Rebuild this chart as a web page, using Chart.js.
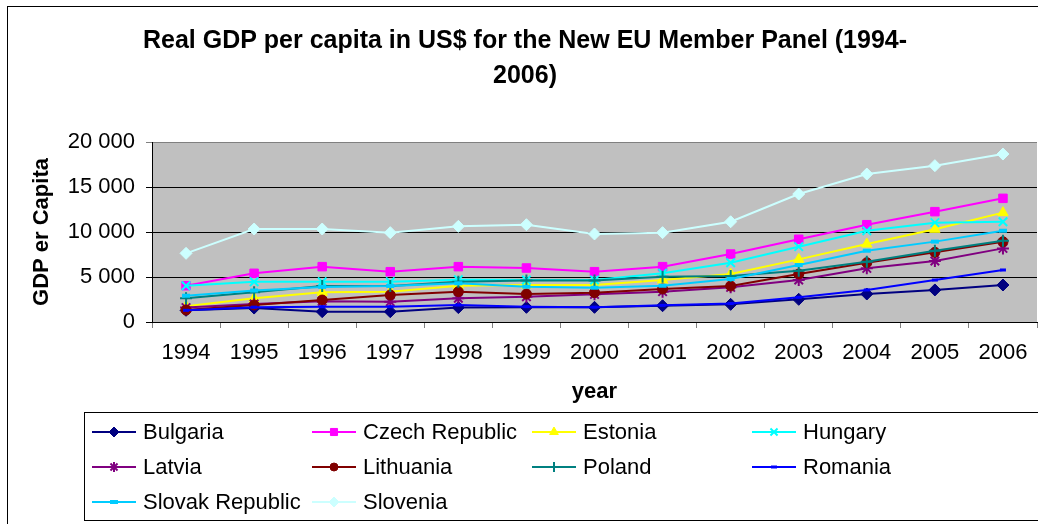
<!DOCTYPE html>
<html>
<head>
<meta charset="utf-8">
<title>Real GDP per capita - New EU Member Panel</title>
<script src="https://cdn.jsdelivr.net/npm/chart.js@4.4.1/dist/chart.umd.min.js"></script>
<style>
  html, body { margin: 0; padding: 0; background: #fff; overflow: hidden; }
  #wrap { width: 1038px; height: 524px; overflow: hidden; }
</style>
</head>
<body>
<div id="wrap"><canvas id="myChart" width="1045" height="524"></canvas></div>
<script>
// values
const years = ['1994', '1995', '1996', '1997', '1998', '1999', '2000', '2001', '2002', '2003', '2004', '2005', '2006'];
const countries = ['Bulgaria', 'Czech Republic', 'Estonia', 'Hungary', 'Latvia', 'Lithuania', 'Poland', 'Romania', 'Slovak Republic', 'Slovenia'];

const bulgaria  = [1300, 1550, 1150, 1150, 1600, 1630, 1630, 1810, 1960, 2520, 3110, 3560, 4110];
const czech     = [4030, 5410, 6150, 5590, 6150, 6000, 5590, 6150, 7550, 9190, 10810, 12260, 13740];
const estonia   = [1740, 2630, 3300, 3370, 4030, 4100, 4100, 4660, 5330, 6960, 8660, 10300, 12150];
const hungary   = [4030, 4480, 4480, 4480, 4700, 4660, 4660, 5410, 6590, 8370, 10140, 11040, 11140];
const latvia    = [1600, 2000, 2300, 2260, 2630, 2810, 3070, 3370, 3850, 4660, 5960, 6780, 8180];
const lithuania = [1330, 1890, 2440, 3000, 3370, 3110, 3260, 3670, 4000, 5330, 6590, 7740, 8920];
const poland    = [2630, 3300, 4000, 4000, 4480, 4600, 4600, 5030, 5110, 5700, 6700, 7920, 9030];
const romania   = [1300, 1650, 1700, 1700, 1900, 1700, 1650, 1850, 2050, 2750, 3560, 4660, 5780];
const slovakia  = [2920, 3500, 3900, 4000, 4300, 3920, 3810, 4030, 4780, 6330, 7920, 8930, 10140];
const slovenia  = [7630, 10330, 10330, 9930, 10630, 10810, 9780, 9930, 11140, 14220, 16440, 17370, 18660];

const yTicks = [0, 5000, 10000, 15000, 20000];

const allSeries = [bulgaria, czech, estonia, hungary, latvia, lithuania, poland, romania, slovakia, slovenia];

// excel-ish marker styles
const styles = [
  { color: '#000080', point: 'rectRot',  r: 6, bw: 1, lr: 5 },
  { color: '#FF00FF', point: 'rect',     r: 6, bw: 1, lr: 5 },
  { color: '#FFFF00', point: 'triangle', r: 6, bw: 1, lr: 5 },
  { color: '#00FFFF', point: 'crossRot', r: 6, bw: 2, lr: 5 },
  { color: '#800080', point: 'star',     r: 6, bw: 2, lr: 5 },
  { color: '#800000', point: 'circle',   r: 5, bw: 1, lr: 4 },
  { color: '#008080', point: 'cross',    r: 6, bw: 2, lr: 5 },
  { color: '#0000FF', point: 'line',     r: 3, bw: 3, lr: 3 },
  { color: '#00CCFF', point: 'line',     r: 4, bw: 4, lr: 4 },
  { color: '#CCFFFF', point: 'rectRot',  r: 6, bw: 1, lr: 5 }
];

const FONT = 'Arial, "Liberation Sans", sans-serif';

const datasets = countries.map((name, i) => ({
  label: name,
  data: allSeries[i],
  borderColor: styles[i].color,
  backgroundColor: styles[i].color,
  pointBackgroundColor: styles[i].color,
  pointBorderColor: styles[i].color,
  pointStyle: styles[i].point,
  pointRadius: styles[i].r,
  pointBorderWidth: styles[i].bw,
  borderWidth: 2,
  tension: 0,
  fill: false,
  order: countries.length - i
}));

const fmt = v => String(v).replace(/\B(?=(\d{3})+(?!\d))/g, ' ');

const frame = {
  id: 'frame',
  beforeDraw(chart) {
    const { ctx, chartArea: a } = chart;
    ctx.save();
    ctx.fillStyle = '#fff';
    ctx.fillRect(0, 0, chart.width, chart.height);
    ctx.strokeStyle = '#000';
    ctx.lineWidth = 1;
    ctx.strokeRect(7.5, 6.5, 1100, 600);
    ctx.fillStyle = '#C0C0C0';
    ctx.fillRect(a.left, a.top, a.right - a.left, a.bottom - a.top);
    ctx.restore();
  }
};

const legendBox = {
  id: 'legendBox',
  afterDraw(chart) {
    const ctx = chart.ctx;
    ctx.save();
    ctx.strokeStyle = '#000';
    ctx.lineWidth = 1;
    ctx.strokeRect(84.5, 412.5, 1000, 108);
    countries.forEach((name, i) => {
      const s = styles[i];
      const x = 92 + (i % 4) * 220;
      const y = 432 + Math.floor(i / 4) * 35;
      ctx.strokeStyle = s.color;
      ctx.lineWidth = 2;
      ctx.beginPath();
      ctx.moveTo(x, y);
      ctx.lineTo(x + 44, y);
      ctx.stroke();
      ctx.fillStyle = s.color;
      ctx.lineWidth = s.bw;
      Chart.helpers.drawPoint(ctx, { pointStyle: s.point, radius: s.lr, rotation: 0, borderWidth: s.bw }, x + 22, y);
      ctx.fillStyle = '#000';
      ctx.font = '22px ' + FONT;
      ctx.textAlign = 'left';
      ctx.textBaseline = 'middle';
      ctx.fillText(name, x + 51, y + 1);
    });
    ctx.restore();
  }
};

const myChart = new Chart(document.getElementById('myChart').getContext('2d'), {
  type: 'line',
  data: { labels: years, datasets: datasets },
  plugins: [frame, legendBox],
  options: {
    responsive: false,
    animation: false,
    layout: { padding: { left: 8, right: 3, top: 0, bottom: 112 } },
    plugins: {
      legend: { display: false },
      tooltip: { enabled: false },
      title: {
        display: true,
        text: ['Real GDP per capita in US$ for the New EU Member Panel (1994-', '2006)'],
        color: '#000',
        font: { family: FONT, size: 25, weight: 'bold', lineHeight: 1.4 },
        padding: { top: 24, bottom: 48 }
      }
    },
    scales: {
      x: {
        offset: true,
        afterFit: s => { s.height = 90; },
        grid: { offset: true, drawOnChartArea: false, drawTicks: true, tickLength: 6, color: '#808080' },
        border: { color: '#000', width: 1 },
        ticks: { color: '#000', padding: 12, maxRotation: 0, font: { family: FONT, size: 22 } },
        title: {
          display: true, text: 'year', color: '#000',
          font: { family: FONT, size: 22, weight: 'bold' },
          padding: { top: 0, bottom: 7 }
        }
      },
      y: {
        min: 0,
        max: 20000,
        afterFit: s => { s.width = 144; },
        afterBuildTicks: s => { s.ticks = yTicks.map(v => ({ value: v })); },
        grid: {
          color: c => (c.tick && c.tick.value === 20000 ? '#808080' : '#000'),
          lineWidth: 1,
          tickLength: 6
        },
        border: { color: '#000', width: 1 },
        ticks: { color: '#000', padding: 11, callback: v => fmt(v), font: { family: FONT, size: 22 } },
        title: {
          display: true, text: 'GDP er Capita', color: '#000',
          font: { family: FONT, size: 22, weight: 'bold' },
          padding: { top: 21, bottom: 0 }
        }
      }
    }
  }
});
</script>
</body>
</html>
